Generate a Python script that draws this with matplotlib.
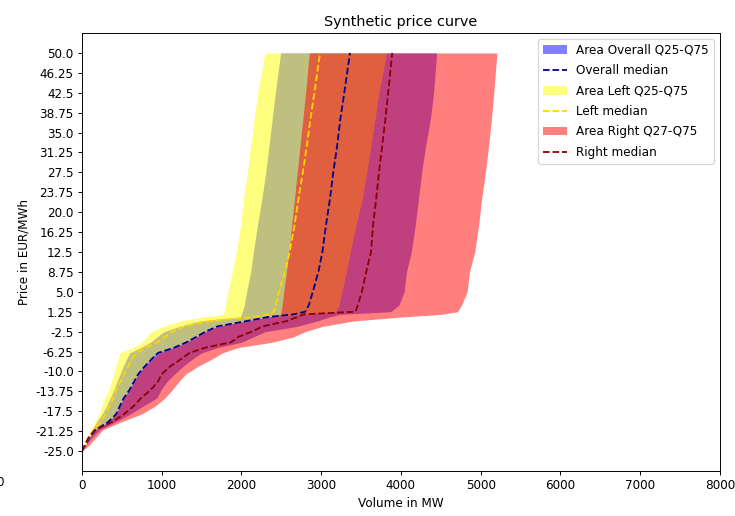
import matplotlib
matplotlib.use("Agg")
import matplotlib.pyplot as plt
import numpy as np

# Price levels (EUR/MWh)
price = [-25, -24, -22.5, -21, -19.5, -18, -16.5, -15, -13.5, -12, -10.5, -9, -7.5,
         -6.5, -5.5, -4.5, -3.5, -2.5, -1.5, -0.5, 0.25, 0.75, 1.25, 2.5, 5, 8.75,
         12.5, 17.5, 22.5, 27.5, 32.5, 37.5, 42.5, 50]

# Overall volumes (MW)
overall_q25 = [0, 45, 90, 130, 185, 255, 310, 355, 400, 437, 478, 518, 565,
               600, 740, 860, 940, 1030, 1220, 1480, 1985, 2000, 2010, 2035, 2065, 2115,
               2150, 2200, 2255, 2305, 2345, 2385, 2425, 2491]
overall_median = [0, 40, 90, 170, 330, 430, 475, 525, 595, 650, 705, 790, 885,
                  955, 1160, 1310, 1430, 1550, 1700, 2065, 2330, 2650, 2800, 2845, 2895, 2965,
                  3015, 3060, 3110, 3152, 3200, 3240, 3290, 3361]
overall_q75 = [0, 45, 120, 220, 420, 610, 770, 940, 990, 1060, 1160, 1270, 1400,
               1500, 1700, 2000, 2150, 2300, 2700, 2950, 3100, 3235, 3870, 3975, 4040, 4070,
               4130, 4180, 4220, 4260, 4310, 4370, 4410, 4448]

# Left volumes (MW)
left_q25 = [0, 30, 65, 105, 160, 215, 250, 285, 335, 365, 400, 425, 455,
            477, 640, 760, 810, 870, 1020, 1230, 1500, 1770, 1785, 1800, 1830, 1885,
            1935, 1990, 2025, 2075, 2115, 2160, 2205, 2295]
left_median = [0, 30, 80, 150, 230, 300, 345, 390, 430, 480, 528, 578, 630,
               690, 800, 950, 1040, 1130, 1290, 1600, 2150, 2358, 2405, 2430, 2470, 2545,
               2605, 2665, 2715, 2770, 2820, 2865, 2915, 2985]
left_q75 = [0, 40, 90, 170, 330, 430, 470, 520, 590, 645, 700, 780, 870,
            930, 1150, 1300, 1425, 1545, 1700, 2065, 2330, 2800, 3180, 3225, 3260, 3315,
            3365, 3435, 3515, 3570, 3625, 3675, 3725, 3820]

# Right volumes (MW)
right_q25 = [0, 40, 90, 170, 330, 430, 478, 528, 600, 655, 710, 795, 895,
             975, 1165, 1315, 1435, 1555, 1705, 2070, 2340, 2490, 2497, 2510, 2530, 2565,
             2595, 2630, 2665, 2700, 2735, 2770, 2805, 2851]
right_median = [0, 30, 80, 160, 380, 530, 650, 740, 860, 950, 1000, 1110, 1260,
                1350, 1550, 1870, 1960, 2130, 2270, 2570, 2700, 2775, 3430, 3460, 3510, 3565,
                3625, 3650, 3690, 3725, 3765, 3805, 3840, 3891]
right_q75 = [0, 80, 170, 260, 490, 750, 920, 1040, 1130, 1210, 1300, 1460, 1650,
             1760, 1960, 2380, 2650, 2800, 3020, 3400, 4000, 4500, 4710, 4760, 4830, 4860,
             4925, 4975, 5012, 5060, 5100, 5135, 5165, 5204]

y_ticks = [-25.0, -21.25, -17.5, -13.75, -10.0, -6.25, -2.5, 1.25, 5.0, 8.75, 12.5,
           16.25, 20.0, 23.75, 27.5, 31.25, 35.0, 38.75, 42.5, 46.25, 50.0]
x_ticks = [0, 1000, 2000, 3000, 4000, 5000, 6000, 7000, 8000]

DPI = 86
fig = plt.figure(figsize=(736 / DPI, 516 / DPI), dpi=DPI)
ax = fig.add_axes([0.1114, 0.0872, 0.8666, 0.8488])

ax.fill_betweenx(price, overall_q25, overall_q75, color='blue', alpha=0.5,
                 linewidth=0, label='Area Overall Q25-Q75')
ax.plot(overall_median, price, '--', color='darkblue', lw=1.5, label='Overall median')
ax.fill_betweenx(price, left_q25, left_q75, color='yellow', alpha=0.5,
                 linewidth=0, label='Area Left Q25-Q75')
ax.plot(left_median, price, '--', color='gold', lw=1.5, label='Left median')
ax.fill_betweenx(price, right_q25, right_q75, color='red', alpha=0.5,
                 linewidth=0, label='Area Right Q27-Q75')
ax.plot(right_median, price, '--', color='darkred', lw=1.5, label='Right median')

ax.set_xlim(0, 8000)
ax.set_xticks(x_ticks)
ax.set_yticks(y_ticks)
ax.set_yticklabels([str(v) for v in y_ticks])
ax.set_ylim(-28.75, 53.75)

ax.set_title('Synthetic price curve', fontsize=12)
ax.set_xlabel('Volume in MW')
ax.set_ylabel('Price in EUR/MWh')
ax.legend(loc='upper right', labelspacing=0.62)

fig.text(0.0, 1 - 483 / 516, '0', ha='center', va='center', fontsize=10)

fig.savefig('out.png', dpi=DPI)
